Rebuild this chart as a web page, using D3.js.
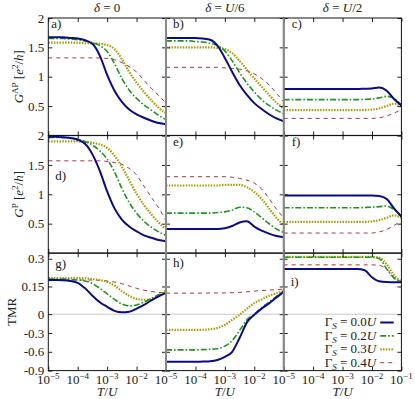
<!DOCTYPE html>
<html>
<head>
<meta charset="utf-8">
<script src="https://cdn.jsdelivr.net/npm/d3@7"></script>
<style>
  body { margin: 0; background: #fff; }
  svg text { font-family: "Liberation Serif", "DejaVu Serif", serif !important; fill: #222; }
</style>
</head>
<body>
<svg id="chart" width="415" height="399"></svg>
<script>
// temperature grid, log10(T/U)
var logT = [-5, -4.75, -4.5, -4.25, -4, -3.75, -3.5, -3.25, -3, -2.75, -2.5, -2.25, -2, -1.75, -1.5, -1.25, -1];

var gammaLabels = ["0.0", "0.2", "0.3", "0.4"];
var deltaLabels = ["0", "U/6", "U/2"];

// G^AP, each: [Gs=0.0, 0.2, 0.3, 0.4]
var apD0 = [
  [1.67,1.67,1.67,1.66,1.65,1.62,1.56,1.36,1.03,0.76,0.57,0.44,0.36,0.30,0.25,0.21,0.19],
  [1.65,1.65,1.65,1.64,1.63,1.61,1.58,1.53,1.43,1.22,0.97,0.77,0.63,0.52,0.43,0.34,0.27],
  [1.58,1.58,1.58,1.58,1.58,1.57,1.57,1.56,1.54,1.47,1.30,1.08,0.90,0.74,0.60,0.47,0.38],
  [1.32,1.32,1.32,1.32,1.32,1.32,1.32,1.32,1.31,1.29,1.24,1.17,1.08,0.94,0.80,0.68,0.55]
];
var apD6 = [
  [1.66,1.66,1.66,1.66,1.66,1.65,1.63,1.53,1.32,1.08,0.86,0.69,0.55,0.45,0.36,0.29,0.24],
  [1.61,1.61,1.61,1.61,1.60,1.59,1.57,1.53,1.44,1.27,1.07,0.89,0.74,0.61,0.51,0.43,0.37],
  [1.50,1.50,1.50,1.50,1.50,1.50,1.50,1.49,1.47,1.40,1.27,1.12,0.97,0.83,0.69,0.56,0.46],
  [1.16,1.16,1.16,1.16,1.16,1.16,1.16,1.16,1.15,1.14,1.13,1.10,1.05,0.97,0.86,0.72,0.57]
];
var apD2 = [
  [0.79,0.79,0.79,0.79,0.79,0.79,0.79,0.79,0.79,0.79,0.79,0.795,0.80,0.815,0.76,0.62,0.51],
  [0.61,0.61,0.61,0.61,0.61,0.61,0.61,0.61,0.61,0.61,0.61,0.615,0.62,0.64,0.665,0.63,0.52],
  [0.43,0.43,0.43,0.43,0.43,0.43,0.43,0.43,0.43,0.43,0.43,0.435,0.44,0.46,0.50,0.54,0.50],
  [0.29,0.29,0.29,0.29,0.29,0.29,0.29,0.29,0.29,0.29,0.29,0.29,0.29,0.30,0.33,0.38,0.44]
];

// G^P
var pD0 = [
  [1.98,1.98,1.97,1.96,1.93,1.86,1.68,1.40,1.05,0.76,0.57,0.45,0.37,0.30,0.26,0.22,0.20],
  [1.97,1.97,1.97,1.96,1.94,1.90,1.84,1.74,1.60,1.38,1.10,0.86,0.68,0.54,0.44,0.36,0.30],
  [1.90,1.90,1.90,1.90,1.90,1.89,1.88,1.85,1.79,1.66,1.47,1.24,1.01,0.82,0.66,0.52,0.41],
  [1.57,1.57,1.57,1.57,1.57,1.57,1.57,1.57,1.56,1.54,1.51,1.44,1.33,1.14,0.95,0.77,0.55]
];
var pD6 = [
  [0.41,0.41,0.41,0.41,0.41,0.41,0.41,0.41,0.42,0.46,0.52,0.54,0.45,0.38,0.33,0.29,0.27],
  [0.68,0.68,0.68,0.68,0.68,0.68,0.68,0.69,0.70,0.73,0.78,0.77,0.70,0.60,0.50,0.41,0.35],
  [1.15,1.15,1.15,1.15,1.15,1.15,1.15,1.15,1.16,1.16,1.16,1.12,1.04,0.92,0.76,0.60,0.48],
  [1.30,1.30,1.30,1.30,1.30,1.30,1.30,1.30,1.30,1.29,1.27,1.24,1.19,1.09,0.93,0.75,0.60]
];
var pD2 = [
  [0.98,0.98,0.98,0.98,0.98,0.98,0.98,0.98,0.98,0.98,0.98,0.98,0.98,0.97,0.92,0.76,0.62],
  [0.77,0.77,0.77,0.77,0.77,0.77,0.77,0.77,0.77,0.77,0.77,0.775,0.78,0.79,0.80,0.74,0.62],
  [0.53,0.53,0.53,0.53,0.53,0.53,0.53,0.53,0.53,0.53,0.53,0.53,0.54,0.56,0.60,0.64,0.60],
  [0.34,0.34,0.34,0.34,0.34,0.34,0.34,0.34,0.34,0.34,0.34,0.34,0.34,0.36,0.40,0.47,0.55]
];

// TMR
var tmrD0 = [
  [0.185,0.185,0.184,0.18,0.17,0.14,0.10,0.065,0.04,0.018,0.01,0.013,0.03,0.05,0.075,0.097,0.115],
  [0.19,0.19,0.19,0.188,0.185,0.18,0.165,0.14,0.11,0.08,0.055,0.045,0.05,0.065,0.085,0.105,0.12],
  [0.195,0.195,0.195,0.195,0.195,0.194,0.19,0.185,0.175,0.155,0.125,0.10,0.083,0.078,0.08,0.10,0.13],
  [0.185,0.185,0.185,0.185,0.185,0.185,0.185,0.183,0.18,0.174,0.165,0.153,0.14,0.13,0.123,0.118,0.115]
];
var tmrD6 = [
  [-0.76,-0.76,-0.76,-0.76,-0.76,-0.755,-0.75,-0.73,-0.68,-0.60,-0.38,-0.13,-0.01,0.03,0.058,0.09,0.122],
  [-0.57,-0.57,-0.57,-0.57,-0.57,-0.565,-0.56,-0.55,-0.51,-0.42,-0.26,-0.09,0.0,0.035,0.065,0.095,0.122],
  [-0.25,-0.25,-0.25,-0.25,-0.25,-0.248,-0.24,-0.22,-0.17,-0.09,-0.01,0.03,0.06,0.08,0.10,0.113,0.125],
  [0.114,0.114,0.114,0.114,0.114,0.114,0.115,0.115,0.115,0.116,0.118,0.121,0.125,0.128,0.13,0.133,0.135]
];
var tmrD2 = [
  [0.245,0.245,0.245,0.245,0.245,0.245,0.245,0.245,0.245,0.245,0.245,0.238,0.20,0.178,0.174,0.173,0.173],
  [0.308,0.308,0.308,0.308,0.308,0.308,0.308,0.308,0.308,0.308,0.308,0.308,0.308,0.30,0.245,0.195,0.175],
  [0.31,0.31,0.31,0.31,0.31,0.31,0.31,0.31,0.31,0.31,0.31,0.31,0.31,0.305,0.27,0.21,0.177],
  [0.267,0.267,0.267,0.267,0.267,0.267,0.267,0.267,0.267,0.267,0.267,0.267,0.267,0.264,0.245,0.20,0.178]
];

var gTicks = [0.5, 1, 1.5, 2];
var tmrTicks = [0.3, 0.15, 0, -0.3, -0.6, -0.9];
var xTicks = [-5, -4, -3, -2, -1];

var svg = d3.select("#chart");

var colX = [48.3, 166, 283.7], pw = 117.7;
var rowY = [18, 135.6, 253.2], ph = 117.4;

var styles = [
  { color: "#0b0b8a", width: 2, dash: null },
  { color: "#1e961e", width: 1.6, dash: "6,2,1.6,2" },
  { color: "#aa9c00", width: 2.2, dash: "1.5,1.3" },
  { color: "#b0303a", width: 1, dash: "4,4" }
];

var x = d3.scaleLog().domain([1e-5, 1e-1]).range([0, pw]);
var yG = d3.scaleLinear().domain([0, 2]).range([ph, 0]);
var yT = d3.scaleLinear().domain([-0.9, 0, 0.33]).range([ph, 61, 0]);

var panels = [
  { data: apD0, r: 0, c: 0, letter: "a)", lx: 3, ly: 10 },
  { data: apD6, r: 0, c: 1, letter: "b)", lx: 7, ly: 10 },
  { data: apD2, r: 0, c: 2, letter: "c)", lx: 8, ly: 10 },
  { data: pD0, r: 1, c: 0, letter: "d)", lx: 7, ly: 44 },
  { data: pD6, r: 1, c: 1, letter: "e)", lx: 7, ly: 10 },
  { data: pD2, r: 1, c: 2, letter: "f)", lx: 8, ly: 10 },
  { data: tmrD0, r: 2, c: 0, letter: "g)", lx: 7, ly: 15 },
  { data: tmrD6, r: 2, c: 1, letter: "h)", lx: 7, ly: 14 },
  { data: tmrD2, r: 2, c: 2, letter: "i)", lx: 7, ly: 33 }
];

svg.append("defs").append("clipPath").attr("id", "clip")
  .append("rect").attr("width", pw).attr("height", ph);

panels.forEach(function(p) {
  var y = p.r === 2 ? yT : yG;
  var g = svg.append("g")
    .attr("transform", "translate(" + colX[p.c] + "," + rowY[p.r] + ")");

  if (p.r === 2) {
    g.append("line")
      .attr("x1", 0).attr("x2", pw)
      .attr("y1", y(0)).attr("y2", y(0))
      .style("stroke", "#c8c8c8").style("stroke-width", 1);
  }

  var line = d3.line()
    .x(function(d) { return x(Math.pow(10, d[0])); })
    .y(function(d) { return y(d[1]); })
    .curve(d3.curveMonotoneX);

  var curves = g.append("g").attr("clip-path", "url(#clip)");
  // draw red first so the solid blue sits on top
  [3, 2, 1, 0].forEach(function(i) {
    var pts = logT.map(function(t, k) { return [t, p.data[i][k]]; });
    curves.append("path")
      .attr("d", line(pts))
      .style("fill", "none")
      .style("stroke", styles[i].color)
      .style("stroke-width", styles[i].width)
      .style("stroke-dasharray", styles[i].dash);
  });

  var yVals = p.r === 2 ? tmrTicks : gTicks;
  var xVals = xTicks.map(function(t) { return Math.pow(10, t); });

  var left = g.append("g")
    .call(d3.axisLeft(y).tickValues(yVals).tickSize(-4).tickPadding(4)
      .tickFormat(function(d) { return p.c === 0 ? String(d) : ""; }));
  var right = g.append("g").attr("transform", "translate(" + pw + ",0)")
    .call(d3.axisRight(y).tickValues(yVals).tickSize(-4).tickFormat(""));
  var top = g.append("g")
    .call(d3.axisTop(x).tickValues(xVals).tickSize(-4).tickFormat(""));
  var bottom = g.append("g").attr("transform", "translate(0," + ph + ")")
    .call(d3.axisBottom(x).tickValues(xVals).tickSize(-4).tickFormat(""));

  [left, right, top, bottom].forEach(function(a) {
    a.attr("font-family", null).attr("font-size", null);
    a.select(".domain").remove();
    a.selectAll(".tick line").style("stroke", "#222");
    a.selectAll("text")
      .style("font-size", "13px")
      .style("fill", "#222");
  });

  // frame
  g.append("rect")
    .attr("width", pw).attr("height", ph)
    .style("fill", "none").style("stroke", "#111").style("stroke-width", 1);

  g.append("text")
    .attr("x", p.lx).attr("y", p.ly)
    .style("font-size", "13px")
    .text(p.letter);

  // bottom row: log tick labels and axis title
  if (p.r === 2) {
    var labs = p.c === 2 ? xTicks : xTicks.slice(0, 4);
    labs.forEach(function(t) {
      var tx = g.append("text")
        .attr("x", x(Math.pow(10, t)))
        .attr("y", ph + 13)
        .style("text-anchor", "middle")
        .style("font-size", "13px");
      tx.append("tspan").text("10");
      tx.append("tspan").attr("dy", -5).style("font-size", "9px").text("\u2212" + Math.abs(t));
    });
    var tl = g.append("text")
      .attr("x", pw / 2).attr("y", ph + 25.5)
      .style("text-anchor", "middle")
      .style("font-size", "13px");
    tl.append("tspan").style("font-style", "italic").text("T");
    tl.append("tspan").text("/");
    tl.append("tspan").style("font-style", "italic").text("U");
  }

  // legend in the last panel
  if (p.r === 2 && p.c === 2) {
    gammaLabels.forEach(function(lab, i) {
      var ly = 322.5 + i * 13.4 - rowY[2];
      var t = g.append("text")
        .attr("x", 92.5).attr("y", ly + 4)
        .style("text-anchor", "end")
        .style("font-size", "13px");
      t.append("tspan").text("\u0393");
      t.append("tspan").attr("dy", 3).style("font-size", "9px").style("font-style", "italic").text("S");
      t.append("tspan").attr("dy", -3).text(" = " + lab);
      t.append("tspan").style("font-style", "italic").text("U");
      g.append("line")
        .attr("x1", 96.5).attr("x2", 110)
        .attr("y1", ly).attr("y2", ly)
        .style("stroke", styles[i].color)
        .style("stroke-width", styles[i].width)
        .style("stroke-dasharray", styles[i].dash);
    });
  }
});

// inner vertical separators drawn in grey
[colX[1], colX[2]].forEach(function(cx) {
  svg.append("line")
    .attr("x1", cx).attr("x2", cx)
    .attr("y1", rowY[0]).attr("y2", rowY[2] + ph)
    .style("stroke", "#888").style("stroke-width", 2);
});

// column titles
deltaLabels.forEach(function(lab, c) {
  var t = svg.append("text")
    .attr("x", colX[c] + pw / 2).attr("y", 12)
    .style("text-anchor", "middle")
    .style("font-size", "13px");
  t.append("tspan").style("font-style", "italic").text("\u03b4");
  t.append("tspan").text(" = ");
  if (lab === "0") {
    t.append("tspan").text("0");
  } else {
    t.append("tspan").style("font-style", "italic").text("U");
    t.append("tspan").text(lab.slice(1));
  }
});

// row titles
function gLabel(sup, cy) {
  var t = svg.append("text")
    .attr("transform", "translate(23," + cy + ") rotate(-90)")
    .style("text-anchor", "middle")
    .style("font-size", "13px");
  t.append("tspan").style("font-style", "italic").text("G");
  t.append("tspan").attr("dy", -5).style("font-size", "9px").text(sup);
  t.append("tspan").attr("dy", 5).text(" [");
  t.append("tspan").style("font-style", "italic").text("e");
  t.append("tspan").attr("dy", -5).style("font-size", "9px").text("2");
  t.append("tspan").attr("dy", 5).text("/");
  t.append("tspan").style("font-style", "italic").text("h");
  t.append("tspan").text("]");
}
gLabel("AP", rowY[0] + ph / 2);
gLabel("P", rowY[1] + ph / 2);

svg.append("text")
  .attr("transform", "translate(16," + (rowY[2] + ph / 2) + ") rotate(-90)")
  .style("text-anchor", "middle")
  .style("font-size", "13px")
  .text("TMR");
</script>
</body>
</html>
